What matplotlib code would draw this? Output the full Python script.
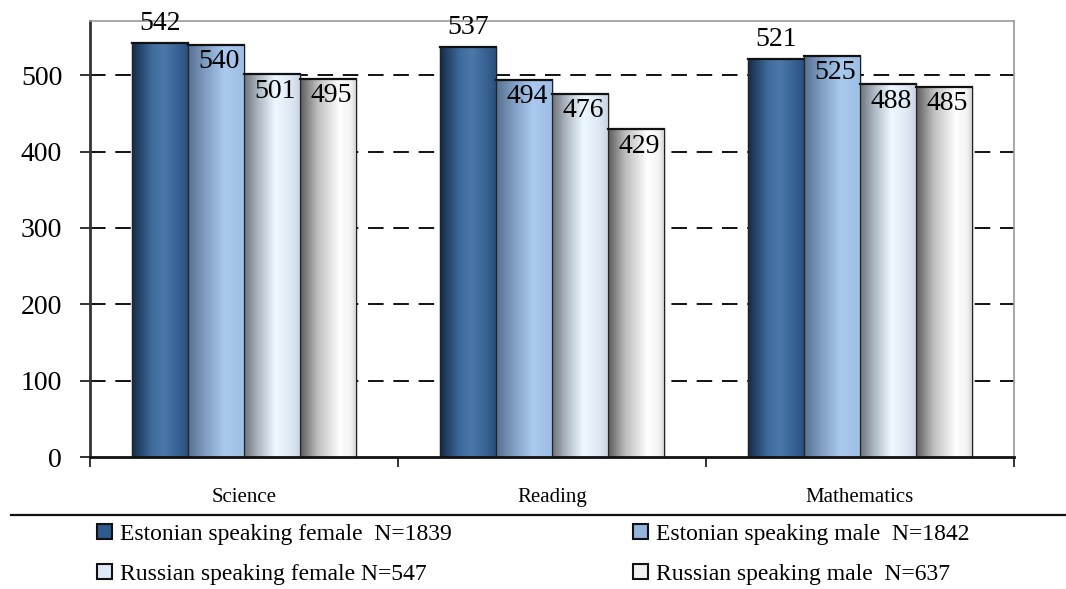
import numpy as np
import matplotlib.pyplot as plt
from matplotlib.colors import LinearSegmentedColormap
from matplotlib.patches import Patch

subjects = ["Science", "Reading", "Mathematics"]
series_names = [
    "Estonian speaking female  N=1839",
    "Estonian speaking male  N=1842",
    "Russian speaking female N=547",
    "Russian speaking male  N=637",
]
est_female = [542, 537, 521]
est_male = [540, 494, 525]
rus_female = [501, 476, 488]
rus_male = [495, 429, 485]
yticks = [0, 100, 200, 300, 400, 500]

series = [est_female, est_male, rus_female, rus_male]

# Horizontal shading profiles for each series (left edge -> right edge)
gradients = [
    [(0.0, "#162b48"), (0.35, "#3f6b9c"), (0.55, "#4b78aa"), (0.85, "#345e90"), (1.0, "#2a4c78")],
    [(0.0, "#566f8e"), (0.3, "#7f9dc2"), (0.65, "#aac9ee"), (1.0, "#9ebde3")],
    [(0.0, "#6d7278"), (0.25, "#aeb8c4"), (0.55, "#eef8ff"), (0.85, "#dbe6f2"), (1.0, "#c8d3df")],
    [(0.0, "#5a5a5a"), (0.3, "#bcbcbc"), (0.7, "#ffffff"), (0.9, "#f2f2f2"), (1.0, "#cfcfcf")],
]
legend_colors = ["#2f5a8c", "#94b4dc", "#dde9f6", "#f0f0f0"]

plt.rcParams["font.family"] = ["Liberation Serif", "DejaVu Serif"]

fig = plt.figure(figsize=(10.66, 5.89), dpi=100)
ax = fig.add_axes([0.0844, 0.2241, 0.8668, 0.7402])

x = np.arange(len(subjects))
width = 0.182
ymax = 571

for i, vals in enumerate(series):
    offs = (i - 1.5) * width
    bars = ax.bar(x + offs, vals, width, color=legend_colors[i], edgecolor="#1a1a1a",
                  linewidth=1.0, zorder=3)
    cmap = LinearSegmentedColormap.from_list(f"g{i}", gradients[i])
    grad = np.linspace(0, 1, 256).reshape(1, -1)
    for b, v in zip(bars, vals):
        x0 = b.get_x()
        w = b.get_width()
        im = ax.imshow(grad, cmap=cmap, aspect="auto",
                       extent=(x0, x0 + w, 0, v), zorder=3.5, interpolation="bicubic")
        im.set_clip_path(b)
        ax.plot([x0, x0 + w], [v, v], color="#111111", lw=1.6, zorder=4)
        ax.plot([x0, x0], [0, v], color="#222222", lw=0.8, zorder=4)
        ax.plot([x0 + w, x0 + w], [0, v], color="#222222", lw=0.8, zorder=4)
        if i == 0:
            ax.annotate(f"{v}", (x0 + w / 2, v), xytext=(0, 5), textcoords="offset points",
                        ha="center", va="bottom", fontsize=20, zorder=6)
        else:
            ax.annotate(f"{v}", (x0 + w / 2, v), xytext=(2, -3), textcoords="offset points",
                        ha="center", va="top", fontsize=20, zorder=6)

ax.set_xlim(-0.5, len(subjects) - 0.5)
ax.set_ylim(0, ymax)
ax.set_yticks(yticks)
ax.set_yticklabels([str(t) for t in yticks], fontsize=20)
ax.tick_params(axis="y", direction="out", length=7, width=1.2, pad=13, color="#111111")

ax.set_xticks(np.arange(len(subjects) + 1) - 0.5)
ax.set_xticklabels([])
ax.set_xticks(x, minor=True)
ax.set_xticklabels(subjects, minor=True, fontsize=15)
ax.tick_params(axis="x", which="minor", length=0, pad=22)
ax.tick_params(axis="x", which="major", direction="out", length=7, width=1.2, color="#111111")

for t in yticks[1:]:
    ax.axhline(t, color="#111111", lw=1.4, ls=(0, (8, 5)), zorder=1)

ax.spines["left"].set_color("#333333")
ax.spines["left"].set_linewidth(2.0)
ax.spines["bottom"].set_color("#111111")
ax.spines["bottom"].set_linewidth(2.0)
ax.spines["bottom"].set_zorder(5)
for s in ("top", "right"):
    ax.spines[s].set_color("#999999")
    ax.spines[s].set_linewidth(1.2)

# separator above the legend
fig.add_artist(plt.Line2D([0.01, 1.0], [1 - 515 / 589, 1 - 515 / 589],
                          transform=fig.transFigure, color="#111111", lw=1.6))

handles = [Patch(facecolor=c, edgecolor="#111111", linewidth=1.5) for c in legend_colors]
order = [0, 2, 1, 3]
fig.legend([handles[k] for k in order], [series_names[k] for k in order],
           ncol=2, loc="upper left", bbox_to_anchor=(0.091, 1 - 524 / 589),
           frameon=False, fontsize=17, handlelength=0.62, handleheight=0.62,
           handletextpad=0.35, columnspacing=7.7, labelspacing=0.8,
           borderaxespad=0, borderpad=0)

fig.savefig("out.png", dpi=100)
